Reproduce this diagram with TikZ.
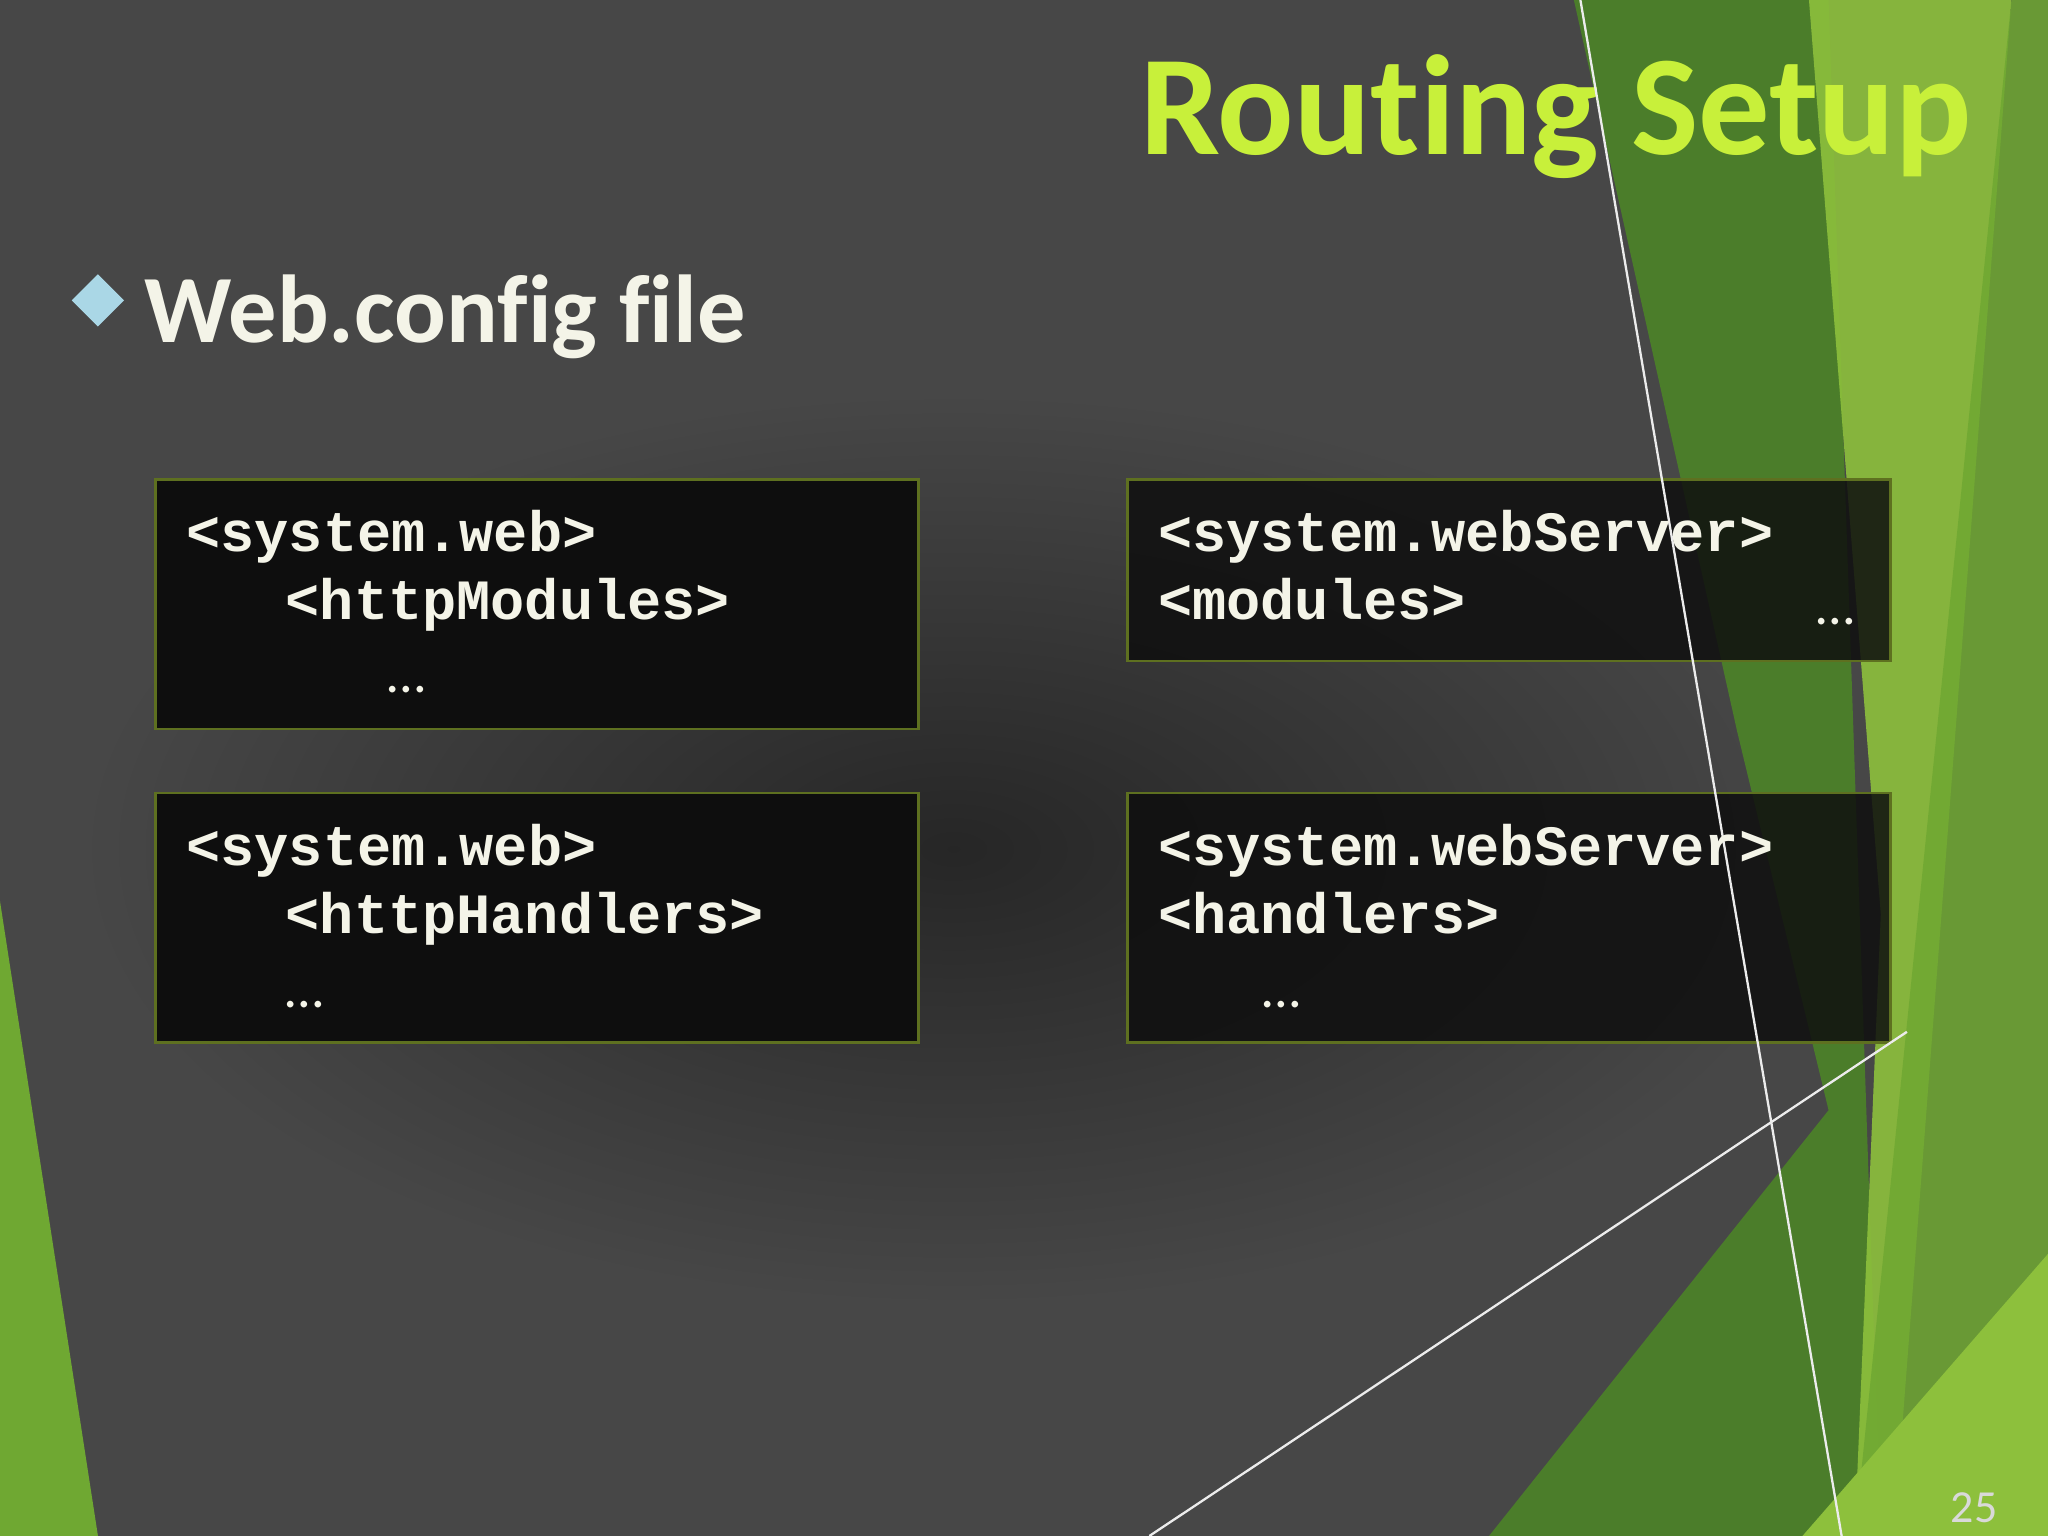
\documentclass[tikz,border=0pt]{standalone}
\usepackage{fontspec}
\setmainfont{Carlito}[RawFeature=-liga]
\newfontfamily\codefont{Liberation Mono}
\begin{document}
\begin{tikzpicture}[x=0.01cm,y=-0.01cm,
  codebox/.style={draw=olivebd,fill=boxbg,line width=0.6pt,anchor=north west,inner sep=0pt,minimum width=5.84cm},
  code/.style={font=\codefont\bfseries\fontsize{12.4}{15}\selectfont,text=codetxt,anchor=base west,inner sep=0pt},
  dots/.style={font=\fontsize{12}{14}\selectfont,text=codetxt,anchor=base west,inner sep=0pt},
  thinline/.style={draw=white!85!gray,line width=0.5pt}]
\definecolor{bg}{HTML}{474747}
\definecolor{boxbg}{HTML}{0E0E0E}
\definecolor{olivebd}{HTML}{5E7020}
\definecolor{codetxt}{HTML}{F4F4E8}
\definecolor{dkgreen}{HTML}{4B7D2A}
\definecolor{ltgreen}{HTML}{8DC03C}
\definecolor{midgreen}{HTML}{6FA832}
\definecolor{titlegreen}{HTML}{C8F03A}
\useasboundingbox (0,0) rectangle (1568,1176);
\fill[bg] (0,0) rectangle (1568,1176);
\shade[inner color=black!85, outer color=bg] (60,300) rectangle (1400,1000);
% green shapes
\fill[dkgreen] (1205,0) -- (1400,0) -- (1440,1176) -- (1140,1176) -- (1400,850) -- (1330,560) -- cycle;
\fill[ltgreen,opacity=0.9] (1385,0) -- (1540,0) -- (1450,1176) -- (1420,1176) -- (1440,700) -- cycle;
\fill[midgreen,opacity=0.85] (1540,0) -- (1568,0) -- (1568,1176) -- (1420,1176) -- cycle;
\fill[ltgreen] (1380,1176) -- (1568,960) -- (1568,1176) -- cycle;
\fill[midgreen] (0,690) -- (75,1176) -- (0,1176) -- cycle;
\coordinate (l1a) at (1210,0); \coordinate (l1b) at (1410,1176);
\coordinate (l2a) at (880,1176); \coordinate (l2b) at (1460,790);
% title
\node[anchor=base east,inner sep=0pt,text=titlegreen,font=\bfseries\fontsize{31}{34}\selectfont] (title) at (1510,118) {Routing Setup};
\fill[color={rgb,255:red,170;green,215;blue,230}] (75,210) -- (95,230) -- (75,250) -- (55,230) -- cycle;
\node[anchor=base west,inner sep=0pt,text=codetxt,font=\bfseries\fontsize{21}{26}\selectfont] (sub) at (110,262) {Web.config file};
% boxes
\node[codebox,minimum height=1.91cm] (b1) at (118,366) {};
\node[codebox,minimum height=1.39cm,fill opacity=0.85] (b2) at (862,366) {};
\node[codebox,minimum height=1.91cm] (b3) at (118,606) {};
\node[codebox,minimum height=1.91cm,fill opacity=0.85] (b4) at (862,606) {};
\draw[thinline] (l1a) -- (l1b);
\draw[thinline] (l2a) -- (l2b);
\node[code] (t1a) at (142,422) {<system.web>};
\node[code] (t1b) at (218,474) {<httpModules>};
\node[dots] (t1c) at (296,530) {…};
\node[code] (t2a) at (886,422) {<system.webServer>};
\node[code] (t2b) at (886,474) {<modules>};
\node[dots] (t2c) at (1390,478) {…};
\node[code] (t3a) at (142,663) {<system.web>};
\node[code] (t3b) at (218,715) {<httpHandlers>};
\node[dots] (t3c) at (218,771) {…};
\node[code] (t4a) at (886,663) {<system.webServer>};
\node[code] (t4b) at (886,715) {<handlers>};
\node[dots] (t4c) at (966,771) {…};
\node[anchor=base east,inner sep=0pt,text=gray!30,font=\fontsize{10}{11}\selectfont] (pg) at (1530,1166) {25};
\end{tikzpicture}
\end{document}
